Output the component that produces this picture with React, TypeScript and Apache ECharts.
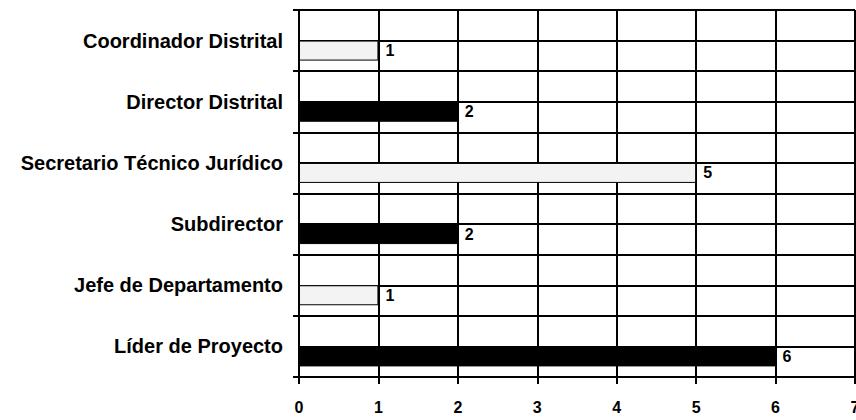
import React, { useEffect, useRef } from "react";
import * as echarts from "echarts";

const categories = [
  "Coordinador Distrital",
  "Director Distrital",
  "Secretario Técnico Jurídico",
  "Subdirector",
  "Jefe de Departamento",
  "Líder de Proyecto",
];
const values = [1, 2, 5, 2, 1, 6];
const xTicks = [0, 1, 2, 3, 4, 5, 6, 7];

const FONT = "'Liberation Sans', Arial, sans-serif";

export default function App() {
  const ref = useRef<HTMLDivElement>(null);
  useEffect(() => {
    document.body.style.margin = "0";
    const chart = echarts.init(ref.current!, null, { renderer: "svg" });
    chart.setOption({
      animation: false,
      backgroundColor: "#ffffff",
      grid: {
        left: 299,
        right: 1,
        top: 10,
        bottom: 43,
        containLabel: false,
        outerBoundsMode: "none",
      },
      xAxis: {
        type: "value",
        min: xTicks[0],
        max: xTicks[xTicks.length - 1],
        interval: 1,
        axisLine: { show: true, lineStyle: { color: "#000", width: 2 } },
        axisTick: { show: true, length: 7, lineStyle: { color: "#000", width: 2 } },
        axisLabel: {
          color: "#000",
          fontFamily: FONT,
          fontWeight: "bold",
          fontSize: 16,
          margin: 22,
        },
        splitLine: { show: true, lineStyle: { color: "#000", width: 2 } },
      },
      yAxis: [
        {
          type: "category",
          data: categories,
          inverse: true,
          axisLine: { show: true, lineStyle: { color: "#000", width: 2 } },
          axisTick: { show: true, length: 6, lineStyle: { color: "#000", width: 2 } },
          axisLabel: {
            color: "#000",
            fontFamily: FONT,
            fontWeight: "bold",
            fontSize: 20,
            margin: 16,
            padding: [0, 0, 4, 0],
          },
          splitLine: { show: false },
        },
        {
          type: "value",
          min: 0,
          max: categories.length * 2,
          interval: 1,
          position: "right",
          axisLine: { show: false },
          axisTick: { show: false },
          axisLabel: { show: false },
          splitLine: { show: true, lineStyle: { color: "#000", width: 2 } },
        },
      ],
      series: [
        {
          type: "bar",
          yAxisIndex: 0,
          data: categories.map(() => null),
          barWidth: 20,
          barGap: "0%",
        },
        {
          type: "bar",
          yAxisIndex: 0,
          data: values,
          barWidth: 20,
          barGap: "0%",
          itemStyle: {
            color: (p: any) => (p.dataIndex % 2 === 0 ? "#f3f3f3" : "#000000"),
            borderColor: "#000",
            borderWidth: 1,
          },
          label: {
            show: true,
            position: "right",
            distance: 7,
            color: "#000",
            fontFamily: FONT,
            fontWeight: "bold",
            fontSize: 16,
          },
        },
      ],
    });
    return () => chart.dispose();
  }, []);
  return <div ref={ref} style={{ width: 856, height: 420 }} />;
}
